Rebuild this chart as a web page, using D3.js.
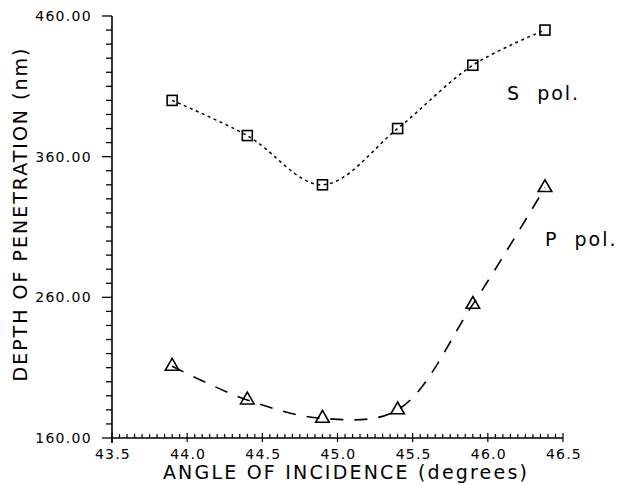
<!DOCTYPE html>
<html>
<head>
<meta charset="utf-8">
<script src="https://cdn.jsdelivr.net/npm/d3@7/dist/d3.min.js"></script>
<style>
  html, body { margin: 0; padding: 0; background: #fff; }
  svg { display: block; }
  text { font-family: "DejaVu Sans", sans-serif; fill: #000; }
</style>
</head>
<body>
<svg id="chart" width="618" height="485"></svg>
<script>
// ---- data ----
const angles = [43.9, 44.4, 44.9, 45.4, 45.9, 46.38];
const sPol = [400, 375, 340, 380, 425, 450];
const pPol = [211, 187, 174, 180, 255, 338];
const xTicks = [43.5, 44.0, 44.5, 45.0, 45.5, 46.0, 46.5];
const yTicks = [160, 260, 360, 460];
const seriesLabels = ["S pol.", "P pol."];
const xTitle = "ANGLE OF INCIDENCE (degrees)";
const yTitle = "DEPTH OF PENETRATION (nm)";

const svg = d3.select("#chart");
const x = d3.scaleLinear().domain([43.5, 46.5]).range([112, 563]);
const y = d3.scaleLinear().domain([160, 460]).range([438, 16]);

const g = svg.append("g");

// y axis line (extends slightly below x axis)
g.append("line").attr("x1", x(43.5)).attr("x2", x(43.5))
  .attr("y1", y(460)).attr("y2", y(160) + 5)
  .attr("stroke", "#000").attr("stroke-width", 1.6);
// x axis line
g.append("line").attr("x1", x(43.5)).attr("x2", x(46.5))
  .attr("y1", y(160)).attr("y2", y(160))
  .attr("stroke", "#000").attr("stroke-width", 1.6);

// y minor/major ticks (outward, left)
const yMinor = d3.range(160, 461, 10);
g.selectAll(".ytick").data(yMinor).enter().append("line")
  .attr("x1", d => x(43.5) - (d % 100 === 60 ? 10 : 6))
  .attr("x2", x(43.5))
  .attr("y1", d => y(d)).attr("y2", d => y(d))
  .attr("stroke", "#000").attr("stroke-width", 1.3);

// x minor ticks (inward, up), major cross
const xMinor = d3.range(0, 61).map(i => 43.5 + i * 0.05);
g.selectAll(".xtick").data(xMinor).enter().append("line")
  .attr("x1", d => x(d)).attr("x2", d => x(d))
  .attr("y1", (d, i) => y(160) - (i % 10 === 0 ? 5 : 4))
  .attr("y2", (d, i) => y(160) + (i % 10 === 0 ? 4 : 0))
  .attr("stroke", "#000").attr("stroke-width", 1.2);

// tick labels
g.selectAll(".xl").data(xTicks).enter().append("text")
  .attr("x", d => x(d) + 1).attr("y", 459)
  .attr("text-anchor", "middle")
  .attr("font-size", 14).attr("letter-spacing", 1.2)
  .text(d => d.toFixed(1));
g.selectAll(".yl").data(yTicks).enter().append("text")
  .attr("x", 92).attr("y", d => y(d)).attr("dy", "0.36em")
  .attr("text-anchor", "end")
  .attr("font-size", 14).attr("letter-spacing", 1.3)
  .text(d => d.toFixed(2));

// titles
g.append("text").attr("x", 346).attr("y", 479)
  .attr("text-anchor", "middle").attr("font-size", 19).attr("letter-spacing", 2.2)
  .text(xTitle);
g.append("text").attr("transform", "translate(27,214) rotate(-90)")
  .attr("text-anchor", "middle").attr("font-size", 19).attr("letter-spacing", 2.0)
  .text(yTitle);

// curves
const line = d3.line().curve(d3.curveCatmullRom.alpha(0.5)).x(d => x(d[0])).y(d => y(d[1]));
const sData = angles.map((a, i) => [a, sPol[i]]);
const pData = angles.map((a, i) => [a, pPol[i]]);

g.append("path").datum(sData).attr("d", line)
  .attr("fill", "none").attr("stroke", "#000").attr("stroke-width", 1.5)
  .attr("stroke-dasharray", "3,3.5");
g.append("path").datum(pData).attr("d", line)
  .attr("fill", "none").attr("stroke", "#000").attr("stroke-width", 1.6)
  .attr("stroke-dasharray", "13,11");

// markers
g.selectAll(".sq").data(sData).enter().append("rect")
  .attr("x", d => x(d[0]) - 5).attr("y", d => y(d[1]) - 5)
  .attr("width", 10).attr("height", 10)
  .attr("fill", "none").attr("stroke", "#000").attr("stroke-width", 1.6);
const tri = d3.symbol().type(d3.symbolTriangle).size(80);
g.selectAll(".tr").data(pData).enter().append("path")
  .attr("d", tri)
  .attr("transform", d => `translate(${x(d[0])},${y(d[1])})`)
  .attr("fill", "none").attr("stroke", "#000").attr("stroke-width", 1.6);

// series labels
g.append("text").attr("x", 507).attr("y", 100)
  .attr("font-size", 19).attr("letter-spacing", 2)
  .text(seriesLabels[0].replace(" ", "\u00a0\u00a0"));
g.append("text").attr("x", 545).attr("y", 246)
  .attr("font-size", 19).attr("letter-spacing", 2)
  .text(seriesLabels[1].replace(" ", "\u00a0\u00a0"));
</script>
</body>
</html>
